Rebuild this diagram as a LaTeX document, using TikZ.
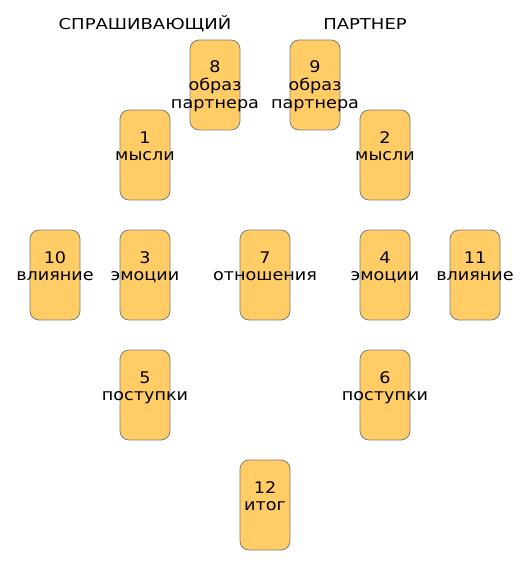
\documentclass[tikz,border=0pt]{standalone}
\usepackage{fontspec}
\setmainfont{DejaVu Sans}
\newfontfamily\cardfont[FakeStretch=1.1]{DejaVu Sans}
\newfontfamily\titlefont[FakeStretch=1.2]{DejaVu Sans}
\definecolor{cardfill}{HTML}{FFCC66}
\definecolor{cardline}{HTML}{7F7F7F}
\tikzset{
  card/.style={draw=cardline, fill=cardfill, rounded corners=9pt, minimum width=50pt, minimum height=90pt, inner sep=0pt, line width=0.8pt},
  lbl/.style={anchor=base, inner sep=0pt, font=\cardfont\fontsize{16}{17.5}\selectfont},
  ttl/.style={anchor=base, inner sep=0pt, font=\titlefont\fontsize{15}{18}\selectfont}
}
\newcommand{\cardtext}[1]{\begin{tabular}[t]{@{}c@{}}#1\end{tabular}}
\begin{document}
\begin{tikzpicture}[x=1pt,y=-1pt]
\useasboundingbox (0,0) rectangle (530,580);
\node[ttl] (ask) at (145,30) {СПРАШИВАЮЩИЙ};
\node[ttl] (prt) at (365,30) {ПАРТНЕР};
% cards: center x = left+25, center y = top+45; text baseline = top+33
\node[card] (c8) at (215,85) {};
\node[lbl] (t8) at (215,73) {\cardtext{8\\образ\\партнера}};
\node[card] (c9) at (315,85) {};
\node[lbl] (t9) at (315,73) {\cardtext{9\\образ\\партнера}};
\node[card] (c1) at (145,155) {};
\node[lbl] (t1) at (145,143) {\cardtext{1\\мысли}};
\node[card] (c2) at (385,155) {};
\node[lbl] (t2) at (385,143) {\cardtext{2\\мысли}};
\node[card] (c10) at (55,275) {};
\node[lbl] (t10) at (55,263) {\cardtext{10\\влияние}};
\node[card] (c3) at (145,275) {};
\node[lbl] (t3) at (145,263) {\cardtext{3\\эмоции}};
\node[card] (c7) at (265,275) {};
\node[lbl] (t7) at (265,263) {\cardtext{7\\отношения}};
\node[card] (c4) at (385,275) {};
\node[lbl] (t4) at (385,263) {\cardtext{4\\эмоции}};
\node[card] (c11) at (475,275) {};
\node[lbl] (t11) at (475,263) {\cardtext{11\\влияние}};
\node[card] (c5) at (145,395) {};
\node[lbl] (t5) at (145,383) {\cardtext{5\\поступки}};
\node[card] (c6) at (385,395) {};
\node[lbl] (t6) at (385,383) {\cardtext{6\\поступки}};
\node[card] (c12) at (265,505) {};
\node[lbl] (t12) at (265,493) {\cardtext{12\\итог}};
\end{tikzpicture}
\end{document}
